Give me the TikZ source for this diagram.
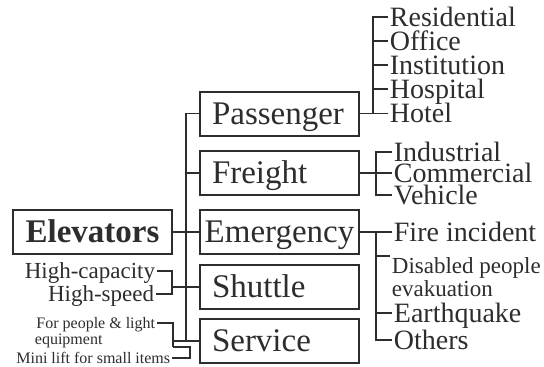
\documentclass[tikz,border=0pt]{standalone}
\usepackage{fontspec}
\setmainfont{Liberation Serif}
\usepackage{xcolor}
\usepackage{tikz}
\usetikzlibrary{positioning, calc}
\definecolor{ink}{HTML}{2D2D2D}

\begin{document}
\begin{tikzpicture}[x=1pt, y=-1pt, color=ink, line width=1.8pt,
    kind/.style={draw, line width=2pt, text width=135pt, inner xsep=12pt, inner ysep=0pt, align=left,
      minimum height=44pt, text height=21.8pt, text depth=0pt, font=\fontsize{33}{36}\selectfont},
    leaf/.style={anchor=west, inner sep=1pt, text height=18.5pt, text depth=0pt, font=\fontsize{28}{28}\selectfont},
    subleaf/.style={leaf, text height=15.2pt, font=\fontsize{23}{23}\selectfont},
    side/.style={anchor=east, inner sep=1pt, text height=15.2pt, text depth=0pt, font=\fontsize{23}{23}\selectfont},
    note/.style={side, text height=10.6pt, font=\fontsize{16}{16}\selectfont}]
    \useasboundingbox (0,0) rectangle (544,367);

    % root and the five kinds
    \node[kind, text width=153pt, inner xsep=3pt, align=center, font=\fontsize{33}{36}\bfseries] (elev) at (92.5,232) {Elevators};
    \node[kind] (pass) at (279.5,113.5) {Passenger};
    \node[kind] (frei) at (279.5,173) {Freight};
    \node[kind, text width=153pt, inner xsep=3pt, align=center] (emer) at (279.5,232) {Emergency};
    \node[kind] (shut) at (279.5,287) {Shuttle};
    \node[kind] (serv) at (279.5,341) {Service};

    % uses
    \node[leaf] (res) at (388,17) {Residential};
    \node[leaf] (off) at (388,41) {Office};
    \node[leaf] (ins) at (388,65) {Institution};
    \node[leaf] (hos) at (388,89) {Hospital};
    \node[leaf] (hot) at (388,113.5) {Hotel};

    \node[leaf] (ind) at (392,152) {Industrial};
    \node[leaf] (com) at (392,173) {Commercial};
    \node[leaf] (veh) at (392,195) {Vehicle};

    \node[leaf] (fire) at (392,232) {Fire incident};
    \node[subleaf, anchor=north west] (dis) at (390,256) {Disabled people};
    \node[subleaf, anchor=base west] (evak) at (390,296) {evakuation};
    \node[leaf] (ear) at (392,313) {Earthquake};
    \node[leaf] (oth) at (392,340) {Others};

    \node[side] (hcap) at (157,271) {High-capacity};
    \node[side] (hspd) at (156,294) {High-speed};
    \node[note] (ppl) at (157,323) {For people \& light};
    \node[note, anchor=base west] (equ) at (33,344) {equipment};
    \node[note] (mini) at (172,358) {Mini lift for small items};

    % trunk
    \coordinate (tr) at (186,0);
    \draw (pass.west) -- (tr |- pass.west) -- (tr |- serv.west) -- (serv.west);
    \draw (frei.west) -- (tr |- frei.west);
    \draw (elev.east) -- (emer.west);

    % left brackets
    \coordinate (sj) at (172,0);
    \draw (hcap.east) -| (sj |- hspd.east) -- (hspd.east);
    \draw (sj |- shut.west) -- (shut.west);
    \coordinate (vj) at (173,347);
    \draw (ppl.east) -| (vj);
    \draw (mini.east) -| ++(18,-11) -- (vj);
    \draw (vj |- serv.west) -- (serv.west);

    % right brackets
    \coordinate (pb) at (373,0);
    \draw (pass.east) -- (hot.west);
    \draw (res.west) -| (pb |- hot.west);
    \foreach \n in {off, ins, hos}
      \draw (pb |- \n.west) -- (\n.west);

    \coordinate (fb) at (376,0);
    \draw (frei.east) -- (com.west);
    \draw (ind.west) -| (fb |- veh.west) -- (veh.west);

    \coordinate (eb) at (376,0);
    \draw (emer.east) -- (fire.west);
    \draw (eb |- fire.west) |- (oth.west);
    \draw (eb |- dis.north west) -- (dis.north west);
    \draw (eb |- ear.west) -- (ear.west);
\end{tikzpicture}
\end{document}
